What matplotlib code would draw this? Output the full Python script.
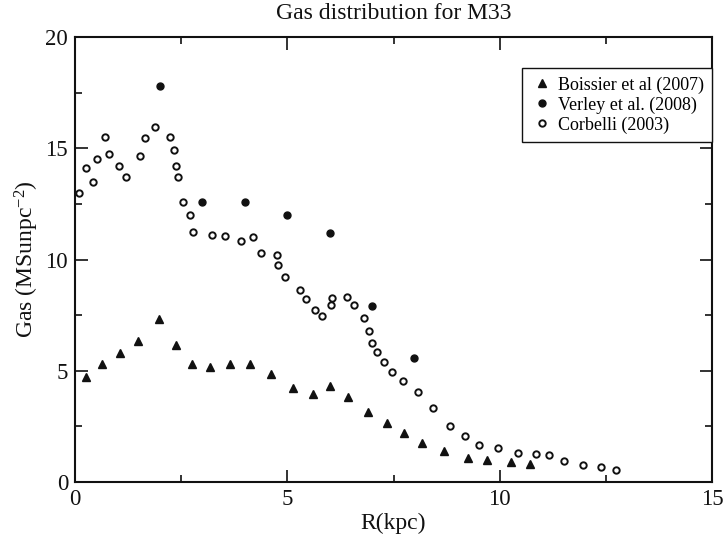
import matplotlib
matplotlib.use("Agg")
import matplotlib.pyplot as plt

# Boissier et al. (2007)
boissier_r = [0.26, 0.64, 1.05, 1.48, 1.98, 2.37, 2.75, 3.17, 3.64, 4.13, 4.62,
              5.14, 5.60, 6.00, 6.42, 6.89, 7.35, 7.75, 8.17, 8.70, 9.25, 9.69,
              10.27, 10.71]
boissier_gas = [4.73, 5.30, 5.80, 6.32, 7.33, 6.14, 5.30, 5.15, 5.30, 5.30, 4.85,
                4.21, 3.96, 4.33, 3.84, 3.13, 2.64, 2.22, 1.75, 1.38, 1.09, 0.99,
                0.88, 0.79]

# Verley et al. (2008)
verley_r = [1.99, 3.00, 4.01, 5.00, 6.00, 7.00, 7.99]
verley_gas = [17.78, 12.58, 12.58, 12.00, 11.21, 7.93, 5.59]

# Corbelli (2003)
corbelli_r = [0.10, 0.26, 0.42, 0.52, 0.71, 0.81, 1.03, 1.19, 1.53, 1.66, 1.88,
              2.24, 2.33, 2.39, 2.42, 2.55, 2.71, 2.78, 3.22, 3.54, 3.90, 4.18,
              4.37, 4.75, 4.79, 4.94, 5.29, 5.43, 5.65, 5.81, 6.03, 6.06, 6.41,
              6.58, 6.80, 6.93, 6.99, 7.11, 7.28, 7.47, 7.72, 8.07, 8.42, 8.83,
              9.18, 9.51, 9.97, 10.43, 10.85, 11.16, 11.52, 11.96, 12.38, 12.75]
corbelli_gas = [12.97, 14.13, 13.47, 14.53, 15.49, 14.74, 14.22, 13.72, 14.67,
                15.45, 15.94, 15.52, 14.92, 14.22, 13.72, 12.57, 11.98, 11.22,
                11.12, 11.04, 10.82, 11.00, 10.29, 10.22, 9.75, 9.20, 8.63, 8.22,
                7.72, 7.45, 7.94, 8.27, 8.31, 7.94, 7.36, 6.79, 6.25, 5.83, 5.41,
                4.96, 4.54, 4.04, 3.31, 2.53, 2.07, 1.65, 1.53, 1.32, 1.27, 1.23,
                0.94, 0.78, 0.66, 0.53]

x_ticks = [0, 5, 10, 15]
y_ticks = [0, 5, 10, 15, 20]

plt.rcParams["font.family"] = ["Liberation Serif", "DejaVu Serif"]
plt.rcParams["mathtext.fontset"] = "custom"
plt.rcParams["mathtext.rm"] = "Liberation Serif"
plt.rcParams["mathtext.it"] = "Liberation Serif:italic"

ink = "#111111"

fig = plt.figure(figsize=(7.23, 5.44), dpi=100)
ax = fig.add_axes([75 / 723, 62 / 544, 637 / 723, 445 / 544])

ax.plot(boissier_r, boissier_gas, linestyle="none", marker="^", markersize=5.5,
        color=ink, label="Boissier et al (2007)")
ax.plot(verley_r, verley_gas, linestyle="none", marker="o", markersize=5,
        color=ink, label="Verley et al. (2008)")
ax.plot(corbelli_r, corbelli_gas, linestyle="none", marker="o", markersize=4.6,
        markerfacecolor="white", markeredgecolor=ink, markeredgewidth=1.4,
        label="Corbelli (2003)")

ax.set_xlim(0, 15)
ax.set_ylim(0, 20)
ax.set_xticks(x_ticks)
ax.set_yticks(y_ticks)
ax.set_xticks([2.5, 7.5, 12.5], minor=True)
ax.set_yticks([2.5, 7.5, 12.5, 17.5], minor=True)
ax.tick_params(which="both", direction="in", top=True, right=True,
               width=1.2, color=ink, labelsize=16.5, labelcolor=ink)
ax.tick_params(which="major", length=9, pad=5)
ax.tick_params(which="minor", length=5)
for s in ax.spines.values():
    s.set_linewidth(1.5)
    s.set_color(ink)

ax.set_title("Gas distribution for M33", fontsize=17, color=ink, pad=13)
ax.set_xlabel("R(kpc)", fontsize=17, color=ink, labelpad=2)
ax.set_ylabel(r"Gas (MSunpc$^{-2}$)", fontsize=17, color=ink, labelpad=3)

leg = ax.legend(loc="upper right", bbox_to_anchor=(1.0, 0.93), borderaxespad=0,
                fontsize=13, numpoints=1, frameon=True, fancybox=False,
                edgecolor=ink, borderpad=0.45, handlelength=1.3,
                handletextpad=0.25, labelspacing=0.15)
leg.get_frame().set_linewidth(1.0)
leg.get_frame().set_alpha(1)

fig.savefig("out.png", dpi=100)
